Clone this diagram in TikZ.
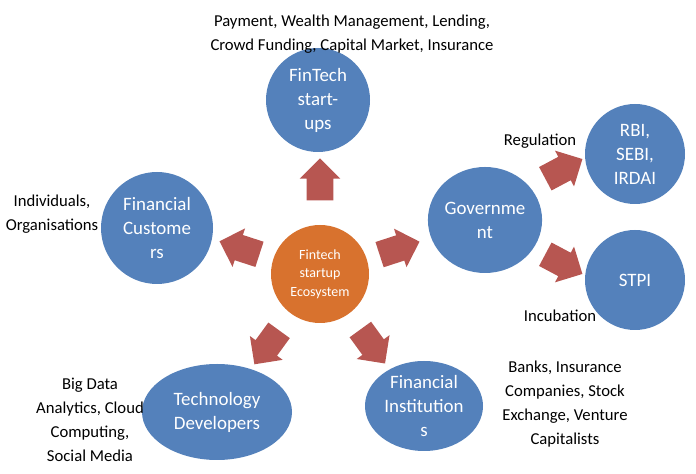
\documentclass[tikz,border=0pt]{standalone}
\usepackage{fontspec}
\setmainfont{Carlito}
\usetikzlibrary{shapes.geometric,shapes.arrows,calc}
\definecolor{cblue}{RGB}{84,129,187}
\definecolor{corange}{RGB}{216,114,46}
\definecolor{carrow}{RGB}{183,86,81}
\begin{document}
\begin{tikzpicture}[x=0.75pt, y=0.75pt, main/.style = {circle, fill=cblue, text=white, align=center, inner sep=0pt, font=\fontsize{14.2}{18}\selectfont}, oval/.style = {ellipse, fill=cblue, text=white, align=center, inner sep=0pt, font=\fontsize{14.2}{18}\selectfont}, note/.style = {align=center, font=\fontsize{12.5}{18}\selectfont}, flow/.style = {single arrow, fill=carrow, inner xsep=0pt, inner ysep=9.75pt, minimum height=31.5pt, minimum width=30pt, single arrow head extend=5.25pt}]
    \useasboundingbox (0,0) rectangle (696,474);
    \node[circle, fill=corange, text=white, align=center, inner sep=0pt, minimum size=73.5pt, font=\fontsize{10.5}{14}\selectfont] (1) at (320,200) {Fintech\\startup\\Ecosystem};
    \node[main, minimum size=78pt] (2) at (318,374) {FinTech\\start-\\ups};
    \node[main, minimum size=84pt] (3) at (157,246) {Financial\\Custome\\rs};
    \node[oval, minimum width=85.5pt, minimum height=79.5pt] (4) at (485,254) {Governme\\nt};
    \node[oval, minimum width=112.5pt, minimum height=72pt] (5) at (217,62) {Technology\\Developers};
    \node[oval, minimum width=88.5pt, minimum height=67.5pt] (6) at (424,68) {Financial\\Institution\\s};
    \node[main, minimum size=75pt] (7) at (635,320) {RBI,\\SEBI,\\IRDAI};
    \node[main, minimum size=75pt] (8) at (635,194) {STPI};

    % arrows out of the hub
    \foreach \a/\d in {90/88,162/78,18/77,234/84,306/83}
        \node[flow, rotate=\a] at ($(1)+(\a:\d)$) {};
    \node[flow, rotate=28] (9) at (558,302) {};
    \node[flow, rotate=-28] (10) at (558,213) {};

    \node[note] (11) at (352,440) {Payment, Wealth Management, Lending,\\Crowd Funding, Capital Market, Insurance};
    \node[note] (12) at (52,260) {Individuals,\\Organisations};
    \node[note] (13) at (540,333) {Regulation};
    \node[note] (14) at (560,158) {Incubation};
    \node[note] (15) at (90,54) {Big Data\\Analytics, Cloud\\Computing,\\Social Media};
    \node[note] (16) at (565,70) {Banks, Insurance\\Companies, Stock\\Exchange, Venture\\Capitalists};
\end{tikzpicture}
\end{document}
